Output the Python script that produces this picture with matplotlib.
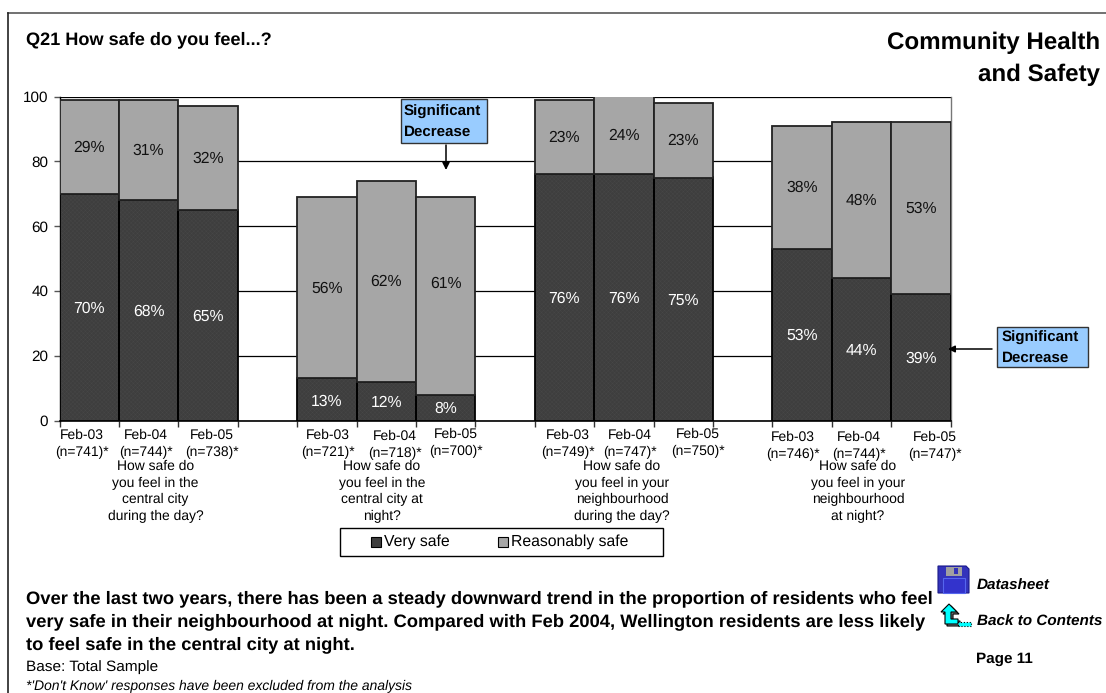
import matplotlib
matplotlib.use("Agg")
import matplotlib.pyplot as plt
from matplotlib.patches import Rectangle, Polygon
import numpy as np

W, H = 1106, 693

slots = [0, 1, 2, 4, 5, 6, 8, 9, 10, 12, 13, 14]
very_safe = [70, 68, 65, 13, 12, 8, 76, 76, 75, 53, 44, 39]
reasonably_safe = [29, 31, 32, 56, 62, 61, 23, 24, 23, 38, 48, 53]
years = ["Feb-03", "Feb-04", "Feb-05"] * 4
sample_sizes = [741, 744, 738, 721, 718, 700, 749, 747, 750, 746, 744, 747]
questions = [
    "How safe do\nyou feel in the\ncentral city\nduring the day?",
    "How safe do\nyou feel in the\ncentral city at\nnight?",
    "How safe do\nyou feel in your\nneighbourhood\nduring the day?",
    "How safe do\nyou feel in your\nneighbourhood\nat night?",
]
yticks = [0, 20, 40, 60, 80, 100]

plt.rcParams["font.family"] = ["Liberation Sans", "DejaVu Sans"]
plt.rcParams["text.hinting"] = "no_hinting"
plt.rcParams["hatch.linewidth"] = 0.3
DARK = "#3e3e3e"
LIGHT = "#a6a6a6"


def fx(x):
    return x / W


def fy(y):
    return 1 - y / H


fig = plt.figure(figsize=(W / 100, H / 100), dpi=100)
ax = fig.add_axes([fx(59.5), fy(420.5), (950.5 - 59.5) / W, (420.5 - 96.5) / H])

x = np.array(slots) + 0.5
# fine dither on the dark fill, outlines go on top
ax.bar(x, very_safe, 1.0, color=DARK, edgecolor="#474747", hatch="xxxxxxxx", linewidth=0, zorder=3)
ax.bar(x, very_safe, 1.0, color="none", edgecolor="black", linewidth=1.3, zorder=3)
ax.bar(x, reasonably_safe, 1.0, bottom=very_safe, color=LIGHT, edgecolor="#222222", linewidth=1.3, zorder=3)

ax.set_xlim(0, 15)
ax.set_ylim(0, 100)
ax.set_yticks(yticks)
ax.set_xticks(range(16))
ax.set_xticklabels([])
ax.tick_params(axis="y", labelsize=11, length=4, width=1, pad=4, color="#555555")
ax.tick_params(axis="x", length=4, width=1, color="#333333")
ax.yaxis.grid(True, color="black", linewidth=0.9, zorder=0)
ax.set_axisbelow(True)
ax.spines["top"].set_visible(False)
ax.spines["right"].set_color("#777777")
ax.spines["right"].set_linewidth(1)
ax.spines["left"].set_linewidth(1)
ax.spines["bottom"].set_linewidth(1.2)

# percentage labels inside the segments
nudge_dark = [-0.4, -0.4, -0.4, -0.8, -0.4, -0.4, -0.4, -0.4, -0.4, -0.4, -0.4, -0.4]
nudge_light = [-0.2, -0.2, -0.2, -0.2, -0.2, 3.8, -0.2, -0.2, -0.2, -0.2, -0.2, -0.2]
for i, xi in enumerate(x):
    ax.text(xi, very_safe[i] / 2 + nudge_dark[i], f"{very_safe[i]}%", color="white", ha="center", va="center",
            fontsize=11.3, zorder=4)
    ax.text(xi, very_safe[i] + reasonably_safe[i] / 2 + nudge_light[i], f"{reasonably_safe[i]}%", color="#111111",
            ha="center", va="center", fontsize=11.3, zorder=4)

# two-line category labels, each sits a little off its column
label_x = [82, 146, 212, 328, 395, 456, 568, 630, 698, 793, 859, 935]
label_y = [435, 435, 435, 435, 436, 434, 435, 435, 434, 437, 437, 437]
for i in range(len(slots)):
    fig.text(fx(label_x[i]), fy(label_y[i]), years[i], fontsize=10, ha="center", va="center")
    fig.text(fx(label_x[i]), fy(label_y[i] + 17), f"(n={sample_sizes[i]})*", fontsize=10, ha="center", va="center")

question_x = [155.5, 382, 622, 858]
line_y = [466, 483, 499.5, 516.5]
for qx, q in zip(question_x, questions):
    for ly, part in zip(line_y, q.split("\n")):
        fig.text(fx(qx), fy(ly), part, fontsize=10, ha="center", va="center")

# legend box
fig.add_artist(Rectangle((fx(340), fy(556)), 323 / W, 28 / H, transform=fig.transFigure, fc="white", ec="black", lw=1))
for px, col, name in [(371, DARK, "Very safe"), (498, LIGHT, "Reasonably safe")]:
    fig.add_artist(Rectangle((fx(px), fy(547)), 10 / W, 10 / H, transform=fig.transFigure, fc=col, ec="black", lw=0.8))
    fig.text(fx(px + 13), fy(542), name, fontsize=11.3, va="center")

# page frame
fig.add_artist(plt.Line2D([fx(8), fx(1106)], [fy(13), fy(13)], color="#666666", lw=1.3))
fig.add_artist(plt.Line2D([fx(8), fx(8)], [fy(693), fy(13)], color="#222222", lw=1.2))

fig.text(fx(26), fy(40), "Q21 How safe do you feel...?", fontsize=13.1, fontweight="bold", va="center")
fig.text(fx(1100), fy(43), "Community Health", fontsize=17.4, fontweight="bold", ha="right", va="center")
fig.text(fx(1100), fy(75), "and Safety", fontsize=17.4, fontweight="bold", ha="right", va="center")


def callout(x0, y0, x1, y1, pad):
    fig.add_artist(Rectangle((fx(x0), fy(y1)), (x1 - x0) / W, (y1 - y0) / H, transform=fig.transFigure,
                             fc="#99ccff", ec="#333333", lw=1, zorder=5))
    mid = (y0 + y1) / 2
    fig.text(fx(x0 + pad), fy(mid - 9.5), "Significant", fontsize=10.9, fontweight="bold", va="center", zorder=6)
    fig.text(fx(x0 + pad), fy(mid + 10.5), "Decrease", fontsize=10.9, fontweight="bold", va="center", zorder=6)


callout(401, 99, 487, 143, 3)
callout(997, 327, 1088, 367, 5)
ax.annotate("", xy=(fx(446), fy(170)), xytext=(fx(446), fy(145)), xycoords="figure fraction",
            textcoords="figure fraction", arrowprops=dict(arrowstyle="-|>", color="black", lw=1.1, mutation_scale=11,
                                                          shrinkA=0, shrinkB=0), zorder=6)
ax.annotate("", xy=(fx(948), fy(349)), xytext=(fx(992), fy(349)), xycoords="figure fraction",
            textcoords="figure fraction", arrowprops=dict(arrowstyle="-|>", color="black", lw=1.1, mutation_scale=10,
                                                          shrinkA=0, shrinkB=0), zorder=6, annotation_clip=False)

summary = ["Over the last two years, there has been a steady downward trend in the proportion of residents who feel",
           "very safe in their neighbourhood at night. Compared with Feb 2004, Wellington residents are less likely",
           "to feel safe in the central city at night."]
for yy, line in zip([599, 622, 645], summary):
    fig.text(fx(26), fy(yy), line, fontsize=13.2, fontweight="bold", va="center")
fig.text(fx(26), fy(667), "Base: Total Sample", fontsize=11.1, va="center")
fig.text(fx(26), fy(686), "*'Don't Know' responses have been excluded from the analysis", fontsize=10, style="italic",
         va="center")

fig.text(fx(977), fy(586), "Datasheet", fontsize=11, fontweight="bold", style="italic", va="center")
fig.text(fx(977), fy(622), "Back to Contents", fontsize=11, fontweight="bold", style="italic", va="center")
fig.text(fx(976), fy(659), "Page 11", fontsize=11, fontweight="bold", va="center")

# floppy disk icon
fig.add_artist(Polygon([(fx(938), fy(593)), (fx(938), fy(566)), (fx(966), fy(566)), (fx(969), fy(569)),
                        (fx(969), fy(593))], transform=fig.transFigure, fc="#3333bb", ec="#1a1a88", lw=0.8))
fig.add_artist(Rectangle((fx(946), fy(576)), 16 / W, 9 / H, transform=fig.transFigure, fc="#a0a0a0", ec="none"))
fig.add_artist(Rectangle((fx(954), fy(574)), 4 / W, 6 / H, transform=fig.transFigure, fc="#3333bb", ec="none"))
fig.add_artist(Rectangle((fx(943), fy(593)), 22 / W, 15 / H, transform=fig.transFigure, fc="#3333cc", ec="#5566ee",
                         lw=0.8))

# return arrow icon
arrow = [(949, 604), (941, 612), (945, 612), (945, 624), (958, 624), (958, 619), (951, 619), (951, 612), (957, 612)]
shadow = [(px + 2, py + 2) for px, py in arrow]
for pts, fc in [(shadow, "#808080"), (arrow, "#00ffff")]:
    fig.add_artist(Polygon([(fx(px), fy(py)) for px, py in pts], transform=fig.transFigure, fc=fc, ec="black", lw=0.8))
fig.add_artist(Rectangle((fx(958), fy(626)), 13 / W, 4 / H, transform=fig.transFigure, fc="#00ffff", ec="black",
                         lw=0.8, ls=":"))

fig.savefig("out.png", dpi=100)
